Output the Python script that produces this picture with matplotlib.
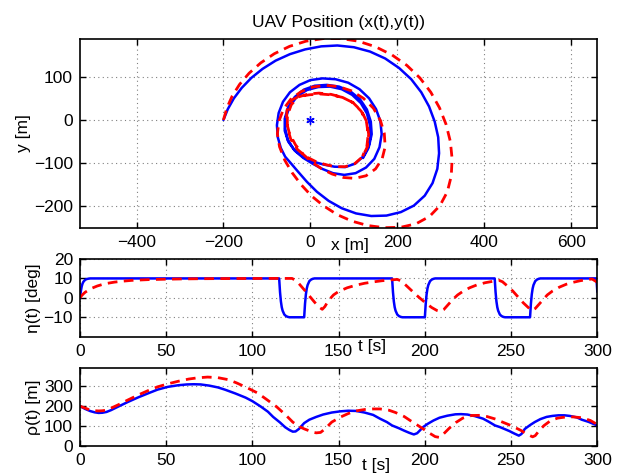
import matplotlib
matplotlib.use("Agg")
import matplotlib.pyplot as plt

plt.rcParams['font.family'] = ['Liberation Sans', 'DejaVu Sans']

# ---------------- data: UAV position ----------------
blue_x = [-200, -190, -176, -158, -136, -110, -80, -47, -12, 25, 62, 100, 137, 172, 204, 232,
          255, 273, 286, 294, 296, 292, 281, 263, 238, 208, 175, 140, 105, 72, 42, 15,
          -8, -28, -45, -58, -68, -75, -77, -73, -63, -47, -25, 0, 28, 58, 87, 113,
          135, 151, 161, 164, 159, 147, 128, 104, 78, 52, 27, 5, -16, -36, -51, -59,
          -59, -51, -36, -15, 10, 38, 66, 92, 114, 130, 139, 141, 135, 122, 103, 80,
          55, 30, 5, -18, -38, -52, -58, -56, -46, -30, -8, 18, 45, 72, 96, 116,
          130, 137, 138, 133, 121]
blue_y = [0, 25, 50, 74, 97, 118, 137, 152, 163, 170, 172, 168, 158, 142, 120, 94,
          64, 31, -4, -40, -77, -113, -146, -175, -198, -213, -221, -222, -216, -204, -187, -166,
          -143, -120, -100, -85, -65, -40, -12, 16, 42, 64, 81, 92, 96, 94, 86, 71,
          50, 25, -3, -33, -63, -90, -110, -123, -127, -123, -113, -101, -88, -71, -50, -25,
          3, 30, 53, 70, 79, 81, 77, 66, 48, 24, -4, -33, -60, -84, -101, -109,
          -108, -103, -96, -85, -68, -46, -20, 8, 34, 55, 69, 76, 77, 71, 58, 39,
          15, -12, -40, -66, -88]

red_x = [-200, -192, -180, -163, -141, -114, -83, -48, -10, 30, 70, 110, 150, 188, 222, 252,
         277, 297, 312, 322, 326, 324, 315, 298, 274, 243, 208, 170, 132, 96, 62, 31,
         3, -21, -42, -59, -71, -76, -72, -62, -45, -22, 5, 35, 65, 95, 122, 145,
         161, 170, 172, 165, 150, 128, 102, 76, 50, 26, 4, -16, -34, -48, -55, -54,
         -45, -27, -3, 22, 48, 74, 98, 118, 130, 134, 131, 120, 102, 80, 57, 34,
         12, -10, -30, -45, -53, -53, -44, -28, -5, 20, 48, 74, 98, 117, 129, 133,
         130, 120]
red_y = [0, 28, 55, 82, 108, 132, 153, 170, 182, 188, 188, 182, 169, 150, 126, 97,
         64, 28, -10, -50, -90, -130, -166, -198, -223, -240, -248, -249, -244, -234, -219, -199,
         -176, -150, -122, -93, -62, -32, -2, 25, 48, 65, 76, 80, 77, 67, 50, 27,
         -1, -31, -62, -90, -113, -129, -135, -133, -125, -113, -98, -80, -58, -32, -5, 22,
         45, 54, 58, 60, 58, 52, 40, 20, -5, -33, -62, -85, -101, -108, -108, -103,
         -96, -85, -68, -45, -18, 10, 35, 53, 60, 62, 59, 52, 40, 20, -5, -33,
         -60, -84]

target_x = [0]
target_y = [0]

# ---------------- data: eta(t) ----------------
eta_blue_t = [0, 0.5, 1, 1.5, 2, 3, 4, 5, 6,
              115.5, 116, 116.5, 117, 117.5, 118.5, 119.5, 120.5, 121.5,
              130, 130.5, 131, 131.5, 132, 133, 134, 135, 136,
              181, 181.5, 182, 182.5, 183, 184, 185, 186, 187,
              200, 200.5, 201, 201.5, 202, 203, 204, 205, 206,
              240.5, 241, 241.5, 242, 242.5, 243.5, 244.5, 245.5, 246.5,
              261, 261.5, 262, 262.5, 263, 264, 265, 266, 267,
              299.5, 300]
eta_blue = [0, 3.5, 5.9, 7.4, 8.3, 9.3, 9.7, 9.9, 10,
            10, 3, -1.8, -4.8, -6.6, -8.6, -9.4, -9.8, -10,
            -10, -3, 1.8, 4.8, 6.6, 8.6, 9.4, 9.8, 10,
            10, 3, -1.8, -4.8, -6.6, -8.6, -9.4, -9.8, -10,
            -10, -3, 1.8, 4.8, 6.6, 8.6, 9.4, 9.8, 10,
            10, 3, -1.8, -4.8, -6.6, -8.6, -9.4, -9.8, -10,
            -10, -3, 1.8, 4.8, 6.6, 8.6, 9.4, 9.8, 10,
            10, 3.3]

eta_red_t = [0, 1, 2, 3, 5, 7, 10, 13, 16, 20, 25, 30, 40, 50, 60, 70, 85, 100, 115, 123,
             125, 127, 130, 133, 136, 139, 140.5, 142, 144, 147, 150, 155, 160, 165, 170, 175, 180, 184,
             186, 189, 192, 195, 198, 201, 204, 207, 209, 211, 213, 216, 219, 222, 226, 230, 235, 240, 243,
             245, 248, 251, 254, 257, 260, 262, 264, 266, 268, 271, 274, 278, 282, 286, 290, 294, 297, 300]
eta_red = [0, 1.2, 2.1, 2.9, 4.0, 5.0, 6.1, 6.9, 7.5, 8.1, 8.6, 9.0, 9.4, 9.6, 9.75, 9.85, 9.93, 9.97, 10, 10,
           9, 7.3, 4.2, 1, -2.2, -5, -5.9, -4.5, -1.5, 1.5, 3.3, 5.2, 6.5, 7.5, 8.2, 8.8, 9.2, 9.5,
           8.8, 6.5, 4, 1.5, -0.8, -3, -5, -6.5, -7, -6, -4, -1, 1.5, 3.3, 5.2, 6.6, 7.8, 8.6, 9,
           8.3, 6, 3.5, 0.5, -2.5, -5, -6.5, -5.5, -3.5, -1.5, 1.5, 3.5, 5.5, 7, 8, 8.8, 9.4, 9.7, 8]

# ---------------- data: rho(t) ----------------
rho_blue_t = [0, 3, 6, 8.5, 10.8, 13, 15.4, 18, 22, 28, 34, 40, 45, 51, 57, 62, 66, 70, 75, 80, 84,
              90, 96, 100, 105, 109, 112, 116, 119, 121.5, 123.4, 125, 127, 130, 133, 137, 141, 146,
              151, 155.6, 160, 165, 170, 174, 178, 181, 185, 188, 191, 193.6, 195.5, 197, 199, 201.6, 205,
              208.5, 213, 217.7, 221, 224.6, 229, 233.8, 237, 240.7, 243.5, 246, 249, 252, 254.5, 256,
              258, 261, 263.7, 267, 270.6, 274, 277.5, 281, 284, 288, 291, 295, 300]
rho_blue = [200, 186, 175, 169, 166, 167, 171, 180, 197, 222, 245, 266, 283, 297, 305, 309, 310, 309, 303, 294, 283,
            264, 243, 225, 197, 172, 146, 118, 94, 80, 72, 73, 86, 115, 132, 146, 158, 168,
            174, 177, 176, 168, 156, 137, 120, 103, 89, 77, 66, 58, 64, 77, 95, 111, 128,
            142, 152, 159, 160, 158, 150, 137, 122, 103, 95, 86, 75, 62, 52, 60,
            86, 105, 120, 135, 146, 151, 154, 154, 151, 144, 132, 121, 103]

rho_red_t = [0, 3, 6, 8.5, 10.8, 13, 15.4, 18, 22, 28, 34, 40, 45, 51, 57, 63, 68, 74, 80, 86,
             91, 97, 103, 108, 114, 119, 123.4, 127, 130, 133, 135, 137, 139.5, 142, 146, 151, 155.6,
             160, 165, 170, 174, 179, 183, 188, 192, 196, 199, 203, 206, 208.5, 211, 214, 218, 222,
             227, 232, 236, 241, 245, 249, 252, 256, 259, 262.5, 264, 266, 269, 273, 277, 282,
             286, 291, 296, 300]
rho_red = [200, 190, 180, 177, 176, 177, 180, 190, 206, 232, 257, 280, 297, 312, 325, 336, 342, 346, 343, 333,
           316, 292, 266, 235, 197, 158, 120, 98, 86, 76, 69, 66, 68, 85, 120, 145, 163,
           176, 183, 186, 186, 180, 168, 148, 125, 103, 86, 63, 47, 43, 62, 88, 118, 140,
           153, 154, 148, 135, 120, 106, 94, 77, 60, 46, 52, 74, 102, 128, 140, 146,
           146, 142, 128, 108]

# ---------------- figure ----------------
W, H = 620, 473
fig = plt.figure(figsize=(W / 100, H / 100), dpi=100)


def add_axes(left, top, right, bottom):
    return fig.add_axes([left / W, 1 - bottom / H, (right - left) / W, (bottom - top) / H])


FS = 12.5
BLUE = '#0000ff'
RED = '#ff0000'
DASH = (0, (3.5, 2.3))


def style(ax):
    ax.tick_params(direction='in', which='both', top=True, right=True, length=4,
                   width=1.0, labelsize=FS, pad=5)
    ax.grid(True, linestyle=(0, (1, 3)), color='#808080', linewidth=0.8)
    for s in ax.spines.values():
        s.set_linewidth(1.2)
        s.set_color('black')


ax1 = add_axes(80, 39, 597.3, 227.7)
ax1.plot(blue_x, blue_y, color=BLUE, lw=1.8, solid_capstyle='round', solid_joinstyle='round')
ax1.plot(red_x, red_y, color=RED, lw=2.0, ls=DASH)
ax1.plot(target_x, target_y, marker=(6, 2, 0), color=BLUE, ms=6, ls='none', markeredgewidth=1.0)
ax1.set_xlim(-530, 660)
ax1.set_ylim(-249, 187)
ax1.set_xticks([-400, -200, 0, 200, 400, 600])
ax1.set_yticks([-200, -100, 0, 100])
style(ax1)
ax1.set_ylabel('y [m]', fontsize=FS, labelpad=2)
ax1.set_title('UAV Position (x(t),y(t))', fontsize=FS, pad=9)
fig.text(350 / W, 1 - 245 / H, 'x [m]', fontsize=FS, ha='center', va='center')

ax2 = add_axes(80, 259, 597.3, 336.7)
ax2.plot(eta_blue_t, eta_blue, color=BLUE, lw=1.8)
ax2.plot(eta_red_t, eta_red, color=RED, lw=2.0, ls=DASH)
ax2.set_xlim(0, 300)
ax2.set_ylim(-20, 20)
ax2.set_xticks([0, 50, 100, 150, 200, 250, 300])
ax2.set_yticks([-10, 0, 10, 20])
style(ax2)
ax2.set_ylabel('η(t) [deg]', fontsize=FS, labelpad=2)
fig.text(372 / W, 1 - 347 / H, 't [s]', fontsize=FS, ha='center', va='center')

ax3 = add_axes(80, 368.3, 597.3, 446)
ax3.plot(rho_blue_t, rho_blue, color=BLUE, lw=1.8)
ax3.plot(rho_red_t, rho_red, color=RED, lw=2.0, ls=DASH)
ax3.set_xlim(0, 300)
ax3.set_ylim(0, 390)
ax3.set_xticks([0, 50, 100, 150, 200, 250, 300])
ax3.set_yticks([0, 100, 200, 300])
style(ax3)
ax3.set_ylabel('ρ(t) [m]', fontsize=FS, labelpad=2)
fig.text(376 / W, 1 - 465 / H, 't [s]', fontsize=FS, ha='center', va='center')

fig.savefig('out.png', dpi=100)
